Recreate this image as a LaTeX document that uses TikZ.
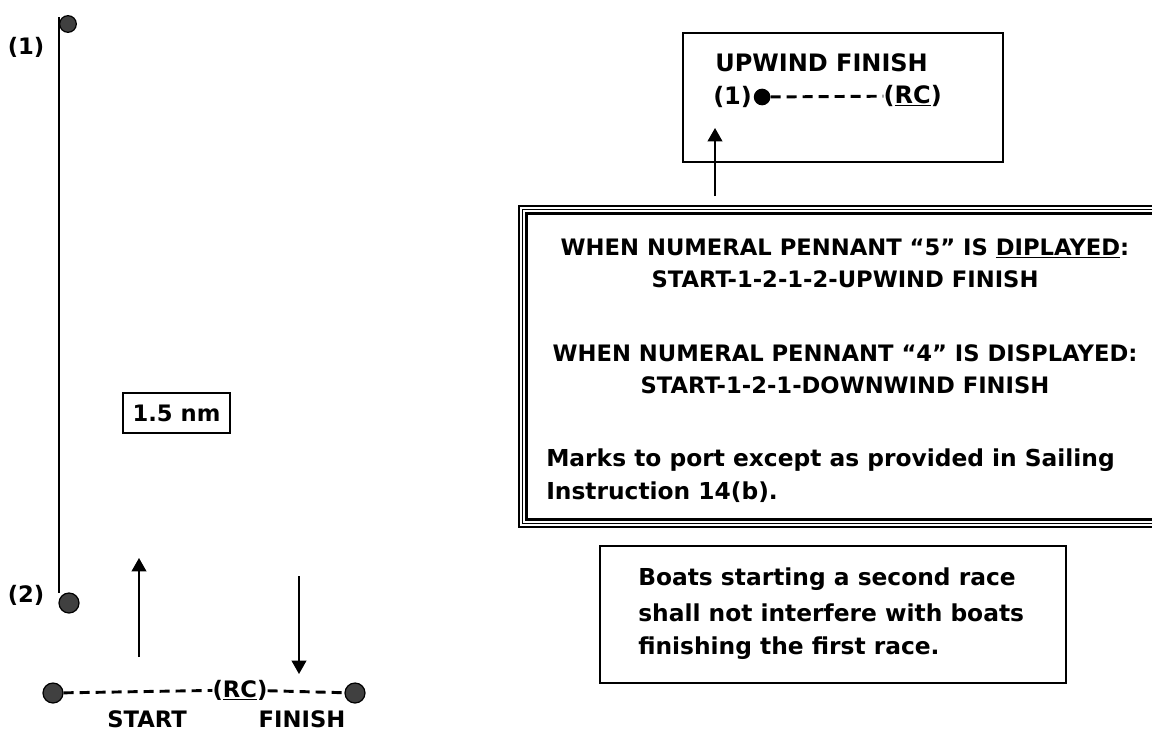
\documentclass[tikz,border=0pt]{standalone}
\usepackage{fontspec}
\setmainfont{DejaVu Sans}
\usetikzlibrary{arrows.meta}
\tikzset{
  txt/.style={inner sep=0pt, font=\bfseries\fontsize{17}{21}\selectfont},
  mtxt/.style={inner sep=0pt, font=\bfseries\fontsize{17.5}{21}\selectfont},
  utxt/.style={inner sep=0pt, font=\bfseries\fontsize{18}{21}\selectfont},
  markdot/.style={circle, draw=black, fill=black!75, line width=0.9pt, inner sep=0pt, minimum size=#1},
  frame/.style={draw=black, line width=1.1pt},
  arr/.style={line width=1.3pt, -{Triangle[length=10pt,width=11pt]}},
  dline/.style={line width=2.2pt, dash pattern=on 7.5pt off 4.5pt},
}
\begin{document}
\begin{tikzpicture}[x=0.75pt,y=-0.75pt]
\useasboundingbox (0,0) rectangle (1152,732);
% left course
\node[markdot=12.5pt] (m1) at (68,24) {};
\node[markdot=15pt] (m2) at (69,603) {};
\coordinate (vtop) at (59,17);
\coordinate (vbot) at (59,593);
\draw[line width=1.4pt] (vtop) -- (vbot);
\node[txt] (l1) at (26,47) {(1)};
\node[txt] (l2) at (26,595) {(2)};
\node[frame, minimum width=80pt, minimum height=30pt, inner sep=0pt] (nmbox) at (176.5,413) {};
\node[txt] (nm) at (176.5,413) {1.5 nm};
% start line
\coordinate (ua) at (139,657);
\coordinate (ub) at (139,558);
\draw[arr] (ua) -- (ub);
\coordinate (da) at (299,576);
\coordinate (db) at (299,674);
\draw[arr] (da) -- (db);
\node[markdot=15pt] (sl) at (53,693) {};
\node[markdot=15pt] (sr) at (355,693) {};
\node[txt] (rc) at (240,690) {(\underline{RC})};
\draw[dline] (sl) -- (rc);
\draw[dline] (rc) -- (sr);
\node[txt] (start) at (147,719) {START};
\node[txt] (finish) at (302,719) {FINISH};
% upwind finish box
\draw[frame] (683,33) rectangle (1003,162);
\node[utxt, anchor=west] (uf) at (715,63) {UPWIND FINISH};
\node[utxt, anchor=west] (uf1) at (713,97) {(1)};
\node[circle, fill=black, inner sep=0pt, minimum size=12.5pt, anchor=west] (ufd) at ([xshift=1pt]uf1.east) {};
\node[utxt, anchor=east] (ufrc) at (942,96) {(\underline{RC})};
\draw[dline] (ufd) -- (ufrc);
\coordinate (aa) at (715,196);
\coordinate (ab) at (715,128);
\draw[arr] (aa) -- (ab);
% big box
\draw[line width=0.8pt] (519,206) rectangle (1165,527);
\draw[line width=0.8pt] (522.5,209.5) rectangle (1161,523.5);
\draw[line width=1.6pt] (526.5,213.5) rectangle (1157,519.5);
\node[txt] (w5) at (845,248) {WHEN NUMERAL PENNANT “5” IS \underline{DIPLAYED}:};
\node[txt] (s5) at (845,279) {START-1-2-1-2-UPWIND FINISH};
\node[txt] (w4) at (845,353) {WHEN NUMERAL PENNANT “4” IS DISPLAYED:};
\node[txt] (s4) at (845,385) {START-1-2-1-DOWNWIND FINISH};
\node[mtxt, anchor=west] (mk1) at (546,460) {Marks to port except as provided in Sailing};
\node[mtxt, anchor=west] (mk2) at (546,492) {Instruction 14(b).};
% boats box
\draw[frame] (600,546) rectangle (1066,683);
\node[mtxt, anchor=west] (b1) at (638,579) {Boats starting a second race};
\node[mtxt, anchor=west] (b2) at (638,613) {shall not interfere with boats};
\node[mtxt, anchor=west] (b3) at (638,648) {finishing the first race.};
\end{tikzpicture}
\end{document}
